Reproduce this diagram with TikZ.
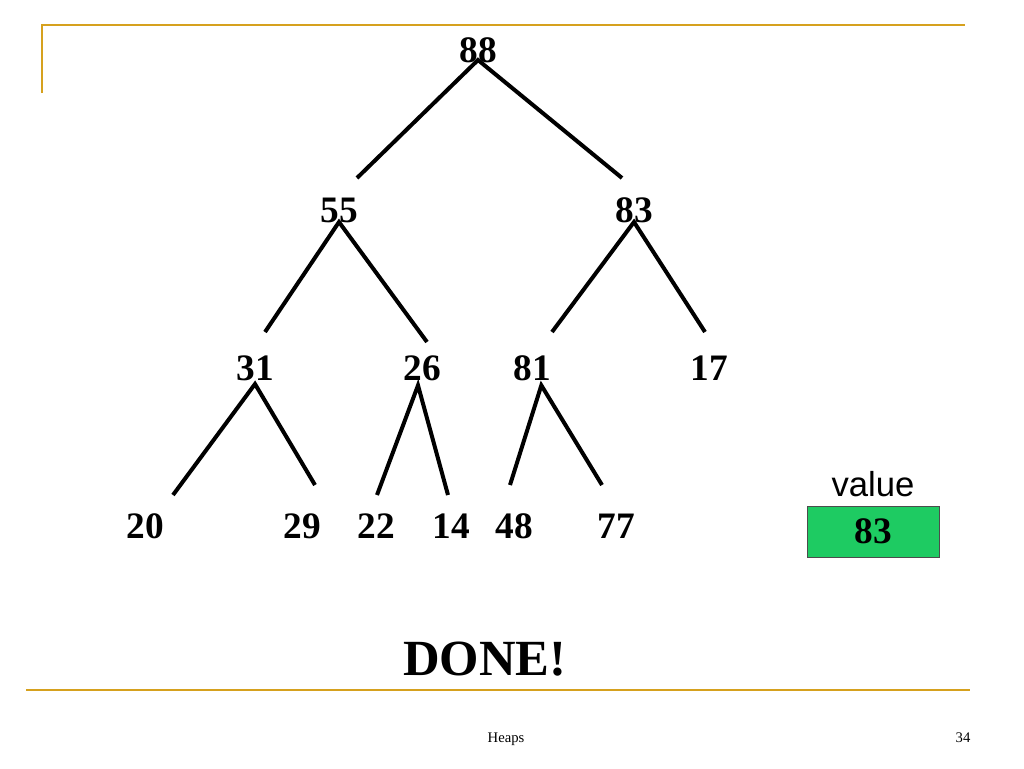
\documentclass[tikz,border=0pt]{standalone}
\usepackage{fontspec}
\setmainfont{Liberation Serif}
\newfontfamily\labelfont{Liberation Sans}
\usepackage{xcolor}
\usepackage{tikz}
\usetikzlibrary{positioning}
\definecolor{slidegold}{HTML}{D6A11E}
\definecolor{boxgreen}{HTML}{1ECB62}

\begin{document}
\begin{tikzpicture}[
    x=0.75pt, y=-0.75pt,
    heapkey/.style={font=\fontsize{28}{30}\selectfont\bfseries, inner sep=0pt, anchor=base},
    treelink/.style={draw=black, line width=3pt},
    goldline/.style={draw=slidegold, line width=1.5pt},
]
\useasboundingbox (0,0) rectangle (1024,768);

% Slide frame
\draw[goldline] (42,93) -- (42,25) -- (965,25);
\draw[goldline, line width=2pt] (26,690) -- (970,690);

% Heap keys
\node[heapkey] (n88) at (478,62) {88};
\node[heapkey] (n55) at (339,222) {55};
\node[heapkey] (n83) at (634,222) {83};
\node[heapkey] (n31) at (255,380) {31};
\node[heapkey] (n26) at (422,380) {26};
\node[heapkey] (n81) at (532,380) {81};
\node[heapkey] (n17) at (709,380) {17};
\node[heapkey] (n20) at (145,538) {20};
\node[heapkey] (n29) at (302,538) {29};
\node[heapkey] (n22) at (376,538) {22};
\node[heapkey] (n14) at (451,538) {14};
\node[heapkey] (n48) at (514,538) {48};
\node[heapkey] (n77) at (616,538) {77};

% Tips of the links, just above each child
\coordinate (t55) at (357,178);
\coordinate (t83) at (622,178);
\coordinate (t31) at (265,332);
\coordinate (t26) at (427,342);
\coordinate (t81) at (552,332);
\coordinate (t17) at (705,332);
\coordinate (t20) at (173,495);
\coordinate (t29) at (315,485);
\coordinate (t22) at (377,495);
\coordinate (t14) at (448,495);
\coordinate (t48) at (510,485);
\coordinate (t77) at (602,485);

% Links
\draw[treelink] (t55) -- ([yshift=1.5pt]n88.base) -- (t83);
\draw[treelink] (t31) -- (n55.base) -- (t26);
\draw[treelink] (t81) -- (n83.base) -- (t17);
\draw[treelink] (t20) -- ([yshift=-3pt]n31.base) -- (t29);
\draw[treelink] (t22) -- ([xshift=-3pt, yshift=-4pt]n26.base) -- (t14);
\draw[treelink] (t48) -- ([xshift=7pt, yshift=-4pt]n81.base) -- (t77);

% Value box
\node[draw=black!70, fill=boxgreen, minimum width=99pt, minimum height=38.25pt,
      inner sep=0pt, font=\fontsize{28}{30}\selectfont\bfseries] (valbox) at (873,531.5) {83};
\node[font=\labelfont\fontsize{26}{28}\selectfont, inner sep=0pt, above=6.75pt of valbox] (vallabel) {value};

% Caption and footer
\node[font=\fontsize{38}{40}\selectfont\bfseries, inner sep=0pt, anchor=base] (done) at (485,675) {DONE!};
\node[font=\fontsize{11}{12}\selectfont, inner sep=0pt, anchor=base] (footer) at (506,742) {Heaps};
\node[font=\fontsize{11}{12}\selectfont, inner sep=0pt, anchor=base] (pagenum) at (963,742) {34};

\end{tikzpicture}
\end{document}
